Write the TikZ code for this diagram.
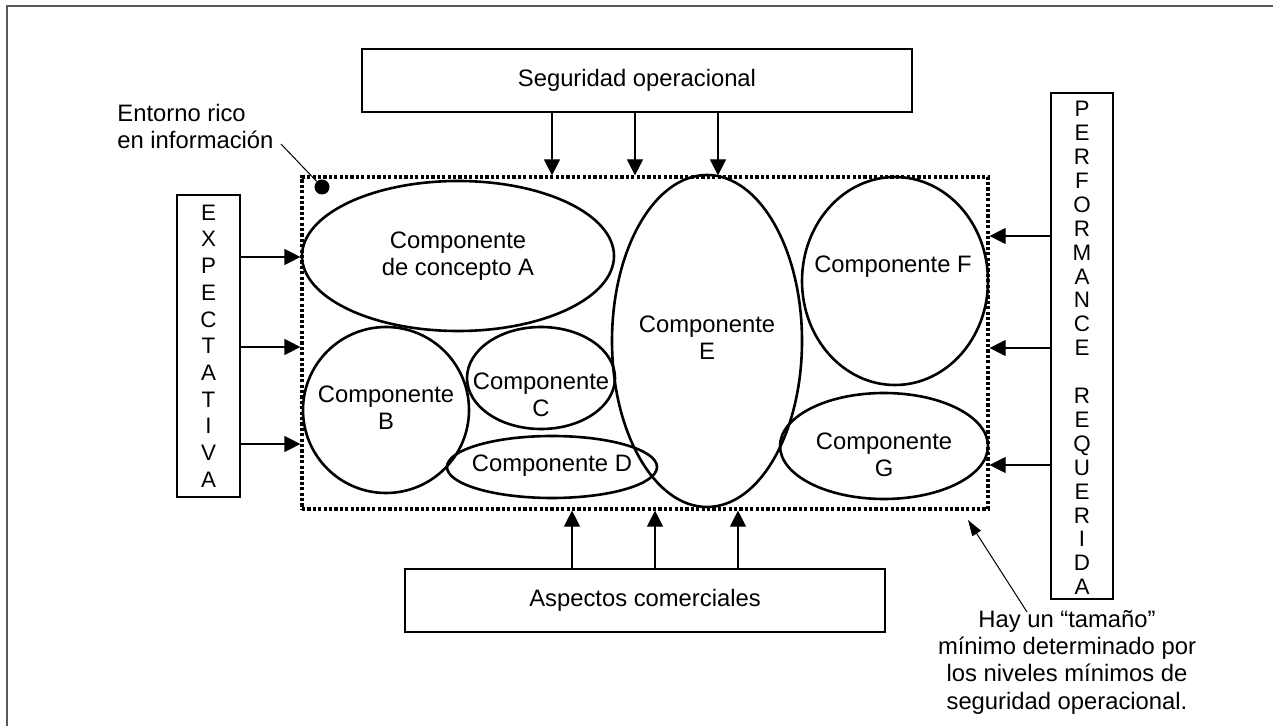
\documentclass[tikz,border=0pt]{standalone}
\usepackage{fontspec}
\setmainfont{Liberation Sans}
\usetikzlibrary{arrows.meta,shapes.geometric}

\begin{document}
\begin{tikzpicture}[x=0.5pt, y=-0.5pt,
	texto/.style = {font=\fontsize{11.9}{13.6}\selectfont, align=center, inner sep=0pt},
	letras/.style = {font=\fontsize{11.2}{13.35}\selectfont, align=center, inner sep=0pt},
	caja/.style = {draw, line width=0.8pt, inner sep=0pt, font=\fontsize{11.9}{13.6}\selectfont},
	comp/.style = {draw, ellipse, line width=1.3pt, inner sep=0pt},
	flecha/.style = {line width=0.6pt, -{Triangle[length=8pt, width=8pt]}}]

	% Frame
	
	\useasboundingbox (0, 0) rectangle (1273, 726);
	\draw [line width=1.1pt, black!65] (1273, 6) -- (7, 6) -- (7, 726);
	
	% Environment (dotted)
	
	\node [draw, line width=1.6pt, dash pattern=on 1.6pt off 1.1pt, minimum width=343pt, minimum height=166pt, inner sep=0pt] (entorno) at (645, 343) {};
	\node [circle, fill, minimum size=7.5pt, inner sep=0pt] (punto) at (322, 187) {};
	\node [texto, align=left, anchor=north west] (rico) at (117, 104) {Entorno rico\\en informaci\'on};
	\coordinate (guia) at (281, 144);
	\draw [line width=0.5pt] (guia) -- (punto);
	
	% Components
	
	\node [comp, minimum width=156pt, minimum height=75pt] (compA) at (458, 256) {};
	\node [texto] (txtA) at (458, 256) {Componente\\de concepto A};
	\node [comp, minimum width=83pt, minimum height=83pt] (compB) at (386, 410) {};
	\node [texto] (txtB) at (386, 408) {Componente\\B};
	\node [comp, minimum width=74pt, minimum height=51pt] (compC) at (541, 378) {};
	\node [texto] (txtC) at (541, 395) {Componente\\C};
	\node [comp, minimum width=105pt, minimum height=31pt] (compD) at (552, 467) {};
	\node [texto] (txtD) at (552, 466) {Componente D};
	\node [comp, minimum width=95pt, minimum height=166pt] (compE) at (707, 341) {};
	\node [texto] (txtE) at (707, 338) {Componente\\E};
	\node [comp, minimum width=93pt, minimum height=104pt] (compF) at (895, 281) {};
	\node [texto] (txtF) at (893, 267) {Componente F};
	\node [comp, minimum width=104pt, minimum height=53pt] (compG) at (884, 446) {};
	\node [texto] (txtG) at (884, 455) {Componente\\G};
	
	% Boxes around
	
	\node [caja, minimum width=275pt, minimum height=31.5pt] (seg) at (637, 80.5) {Seguridad operacional};
	\node [caja, minimum width=240pt, minimum height=31.5pt] (asp) at (645, 600.5) {Aspectos comerciales};
	\node [caja, letras, minimum width=31.5pt, minimum height=151pt] (expect) at (208.5, 346) {E\\X\\P\\E\\C\\T\\A\\T\\I\\V\\A};
	\node [caja, minimum width=31pt, minimum height=253pt] (perf) at (1082, 346) {};
	\node [letras, font=\fontsize{11.2}{11.95}\selectfont] (perftxt) at (1082, 348) {P\\E\\R\\F\\O\\R\\M\\A\\N\\C\\E\\[11.95pt]R\\E\\Q\\U\\E\\R\\I\\D\\A};
	
	% Arrows
	
	\foreach \x in {552, 635, 718}
		\draw [flecha] (seg.south -| \x, 0) -- (entorno.north -| \x, 0);
	\foreach \x in {572, 655, 738}
		\draw [flecha] (asp.north -| \x, 0) -- (entorno.south -| \x, 0);
	\foreach \y in {257, 347, 444}
		\draw [flecha] (expect.east |- 0, \y) -- (entorno.west |- 0, \y);
	\foreach \y in {236, 348, 465}
		\draw [flecha] (perf.west |- 0, \y) -- (entorno.east |- 0, \y);
	
	% Note on minimum size
	
	\node [texto, anchor=north] (nota) at (1067, 610) {Hay un “tama\~no”\\m\'inimo determinado por\\los niveles m\'inimos de\\seguridad operacional.};
	\coordinate (desde) at (1027, 612);
	\coordinate (esquina) at (968, 520);
	\draw [line width=0.5pt, -{Triangle[length=8pt, width=5pt]}] (desde) -- (esquina);

\end{tikzpicture}
\end{document}
